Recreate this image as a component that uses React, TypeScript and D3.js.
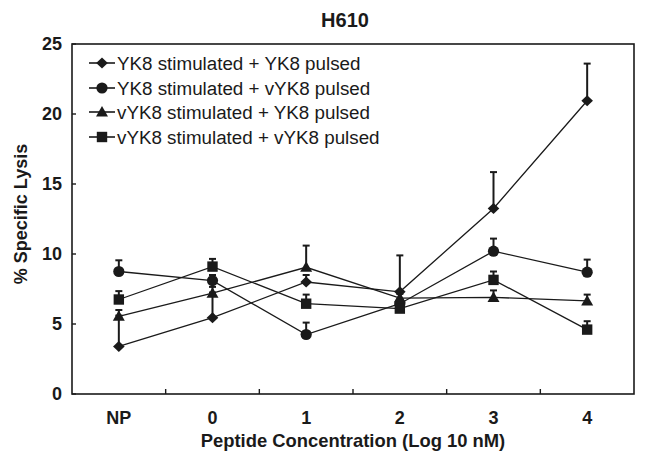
import React from "react";
import * as d3 from "d3";

const categories = ["NP", "0", "1", "2", "3", "4"];
const yTicks = [0, 5, 10, 15, 20, 25];

const seriesNames = [
  "YK8 stimulated + YK8 pulsed",
  "YK8 stimulated + vYK8 pulsed",
  "vYK8 stimulated + YK8 pulsed",
  "vYK8 stimulated + vYK8 pulsed",
];
const seriesShapes = ["diamond", "circle", "triangle", "square"];

const yk8yk8 = [3.4, 5.45, 8.0, 7.3, 13.25, 20.95];
const yk8yk8Err = [2.2, 1.8, 0.5, 2.6, 2.6, 2.65];

const yk8vyk8 = [8.75, 8.1, 4.25, 6.45, 10.2, 8.7];
const yk8vyk8Err = [0.8, 0.4, 0.85, 0.3, 0.9, 0.9];

const vyk8yk8 = [5.55, 7.2, 9.05, 6.85, 6.9, 6.65];
const vyk8yk8Err = [0.45, 0.45, 1.55, 0.3, 0.5, 0.45];

const vyk8vyk8 = [6.75, 9.1, 6.45, 6.1, 8.15, 4.6];
const vyk8vyk8Err = [0.6, 0.55, 0.65, 0.3, 0.6, 0.6];

const seriesValues = [yk8yk8, yk8vyk8, vyk8yk8, vyk8vyk8];
const seriesErrors = [yk8yk8Err, yk8vyk8Err, vyk8yk8Err, vyk8vyk8Err];

const W = 645;
const H = 458;
const plot = { left: 72, right: 634, top: 44, bottom: 394 };
const ink = "#1a1a1a";
const font = "'Liberation Sans', Arial, Helvetica, sans-serif";

function Marker({ shape, x, y }: { shape: string; x: number; y: number }) {
  if (shape === "circle") return <circle cx={x} cy={y} r={5.6} fill={ink} />;
  if (shape === "square")
    return <rect x={x - 5.2} y={y - 5.2} width={10.4} height={10.4} fill={ink} />;
  if (shape === "triangle")
    return (
      <path
        d={`M${x},${y - 6} L${x + 6},${y + 4.5} L${x - 6},${y + 4.5} Z`}
        fill={ink}
      />
    );
  return (
    <path
      d={`M${x},${y - 5.5} L${x + 5.8},${y} L${x},${y + 5.5} L${x - 5.8},${y} Z`}
      fill={ink}
    />
  );
}

export default function App() {
  const x = d3
    .scaleBand<string>()
    .domain(categories)
    .range([plot.left, plot.right])
    .padding(0);
  const y = d3.scaleLinear().domain([0, 25]).range([plot.bottom, plot.top]);
  const cx = (c: string) => (x(c) as number) + x.bandwidth() / 2;

  const line = d3
    .line<number>()
    .x((_, i) => cx(categories[i]))
    .y((d) => y(d));

  const boundaries = categories.slice(1).map((c) => x(c) as number);

  const legendY = [63, 88, 112, 137];

  return (
    <svg
      width={W}
      height={H}
      style={{ position: "absolute", left: 0, top: 0, background: "#fff" }}
      fontFamily={font}
    >
      <rect x={0} y={0} width={W} height={H} fill="#fff" />
      {/* title */}
      <text x={345} y={27} textAnchor="middle" fontSize={20} fontWeight="bold" fill={ink}>
        H610
      </text>

      {/* frame */}
      <rect
        x={plot.left}
        y={plot.top}
        width={plot.right - plot.left}
        height={plot.bottom - plot.top}
        fill="none"
        stroke={ink}
        strokeWidth={1.6}
      />

      {/* y ticks */}
      {yTicks.map((t) => (
        <g key={"y" + t}>
          <line x1={plot.left} x2={plot.left + 4} y1={y(t)} y2={y(t)} stroke={ink} strokeWidth={1.4} />
          <text
            x={62}
            y={y(t) + 6}
            textAnchor="end"
            fontSize={18}
            fontWeight="bold"
            fill={ink}
          >
            {t}
          </text>
        </g>
      ))}

      {/* x ticks */}
      {boundaries.map((b, i) => (
        <line key={"xt" + i} x1={b} x2={b} y1={plot.bottom} y2={plot.bottom - 5} stroke={ink} strokeWidth={1.4} />
      ))}
      {categories.map((c) => (
        <text
          key={"xl" + c}
          x={cx(c)}
          y={424}
          textAnchor="middle"
          fontSize={18}
          fontWeight="bold"
          fill={ink}
        >
          {c}
        </text>
      ))}

      {/* axis titles */}
      <text
        x={(plot.left + plot.right) / 2}
        y={447}
        textAnchor="middle"
        fontSize={18.4}
        fontWeight="bold"
        fill={ink}
      >
        Peptide Concentration (Log 10 nM)
      </text>
      <text
        transform={`translate(27,${214}) rotate(-90)`}
        textAnchor="middle"
        fontSize={18}
        fontWeight="bold"
        fill={ink}
      >
        % Specific Lysis
      </text>

      {/* lines */}
      {seriesValues.map((vals, s) => (
        <path key={"l" + s} d={line(vals) || ""} fill="none" stroke={ink} strokeWidth={1.3} />
      ))}

      {/* error bars */}
      {seriesValues.map((vals, s) =>
        vals.map((v, i) => {
          const px = cx(categories[i]);
          const top = y(v + seriesErrors[s][i]);
          return (
            <g key={`e${s}-${i}`}>
              <line x1={px} x2={px} y1={y(v)} y2={top} stroke={ink} strokeWidth={2} />
              <line x1={px - 3.5} x2={px + 3.5} y1={top} y2={top} stroke={ink} strokeWidth={2} />
            </g>
          );
        })
      )}

      {/* markers */}
      {seriesValues.map((vals, s) =>
        vals.map((v, i) => (
          <Marker key={`m${s}-${i}`} shape={seriesShapes[s]} x={cx(categories[i])} y={y(v)} />
        ))
      )}

      {/* legend */}
      {seriesNames.map((n, s) => (
        <g key={"lg" + s}>
          <line x1={89} x2={115} y1={legendY[s]} y2={legendY[s]} stroke={ink} strokeWidth={1.6} />
          <Marker shape={seriesShapes[s]} x={102} y={legendY[s]} />
          <text x={117} y={legendY[s] + 6.5} fontSize={18.8} fill={ink}>
            {n}
          </text>
        </g>
      ))}
    </svg>
  );
}
